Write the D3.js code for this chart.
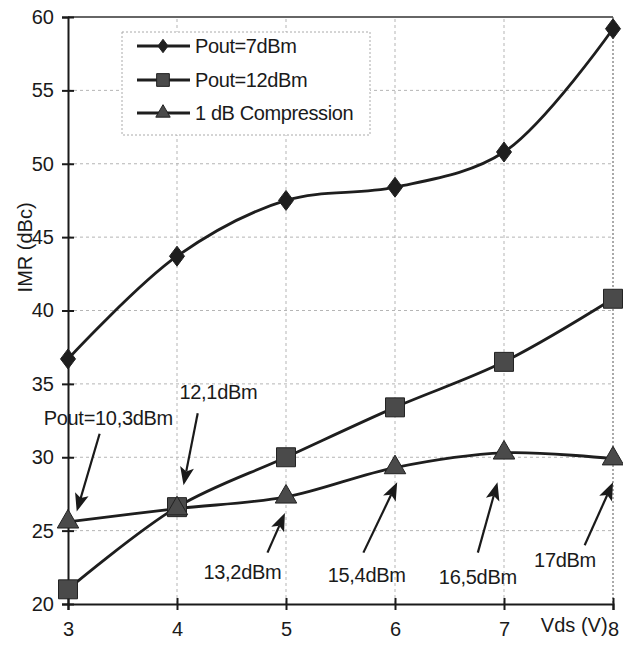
<!DOCTYPE html>
<html>
<head>
<meta charset="utf-8">
<script src="https://cdn.jsdelivr.net/npm/d3@7"></script>
<style>
  body { margin: 0; background: #fff; }
  svg { display: block; font-family: "Liberation Sans", Arial, sans-serif; }
</style>
</head>
<body>
<div id="chart"></div>
<script>
// IMR vs Vds chart
var vds = [3, 4, 5, 6, 7, 8];
var pout7 = [36.7, 43.7, 47.5, 48.4, 50.8, 59.2];
var pout12 = [21.0, 26.6, 30.0, 33.4, 36.5, 40.8];
var comp1dB = [25.6, 26.5, 27.3, 29.3, 30.3, 29.9];
var seriesNames = ["Pout=7dBm", "Pout=12dBm", "1 dB Compression"];
var yTicks = [20, 25, 30, 35, 40, 45, 50, 55, 60];
var xTicks = [3, 4, 5, 6, 7, 8];

// annotation labels: text position and arrow (from -> to), in data units
var noteLabels = ["Pout=10,3dBm", "12,1dBm", "13,2dBm", "15,4dBm", "16,5dBm", "17dBm"];
var noteText = [[3.37, 32.7], [4.38, 34.45], [4.60, 22.2], [5.74, 22.0], [6.76, 21.85], [7.56, 23.0]];
var noteFrom = [[3.29, 31.6], [4.19, 33.0], [4.83, 23.5], [5.71, 23.5], [6.76, 23.5], [7.74, 24.0]];
var noteTo = [[3.08, 26.3], [4.06, 28.1], [4.99, 26.2], [6.02, 28.3], [6.94, 28.3], [8.0, 28.3]];

var width = 623, height = 646;

var x = d3.scaleLinear().domain([3, 8]).range([68, 613]);
var y = d3.scaleLinear().domain([20, 60]).range([604, 17]);

var svg = d3.select("#chart").append("svg")
    .attr("width", width)
    .attr("height", height);

// grid
svg.append("g").selectAll("line")
    .data(yTicks.filter(function(d) { return d > 20 && d < 60; }))
  .enter().append("line")
    .attr("x1", x(3)).attr("x2", x(8))
    .attr("y1", function(d) { return y(d); })
    .attr("y2", function(d) { return y(d); })
    .attr("stroke", "#b5b5b5")
    .attr("stroke-dasharray", "3,3");

svg.append("g").selectAll("line")
    .data(xTicks.filter(function(d) { return d > 3 && d < 8; }))
  .enter().append("line")
    .attr("x1", function(d) { return x(d); })
    .attr("x2", function(d) { return x(d); })
    .attr("y1", y(20)).attr("y2", y(60))
    .attr("stroke", "#b5b5b5")
    .attr("stroke-dasharray", "3,3");

// frame top and right
svg.append("line")
    .attr("x1", x(3)).attr("x2", x(8))
    .attr("y1", y(60)).attr("y2", y(60))
    .attr("stroke", "#333").attr("stroke-width", 1.6);
svg.append("line")
    .attr("x1", x(8)).attr("x2", x(8))
    .attr("y1", y(60)).attr("y2", y(20))
    .attr("stroke", "#555").attr("stroke-width", 1)
    .attr("stroke-dasharray", "2,2");

// axes
var yAxis = d3.axisLeft(y).tickValues(yTicks).tickSize(6).tickPadding(8)
    .tickFormat(d3.format("d"));
var xAxis = d3.axisBottom(x).tickValues(xTicks).tickSize(6).tickPadding(12)
    .tickFormat(d3.format("d"));

var gy = svg.append("g")
    .attr("transform", "translate(" + x(3) + ",0)")
    .call(yAxis);
var gx = svg.append("g")
    .attr("transform", "translate(0," + y(20) + ")")
    .call(xAxis);

[gx, gy].forEach(function(g) {
  g.select(".domain").attr("stroke", "#1a1a1a").attr("stroke-width", 2);
  g.selectAll(".tick line").attr("stroke", "#1a1a1a").attr("stroke-width", 2);
  g.selectAll(".tick text").attr("fill", "#1a1a1a").style("font-size", "20px");
});
gy.selectAll(".tick line").attr("x2", 6).attr("x1", -6);
gx.selectAll(".tick line").attr("y1", -6).attr("y2", 6);

svg.append("text")
    .attr("transform", "translate(25," + y(44.3) + ") rotate(-90)")
    .attr("text-anchor", "middle")
    .attr("dy", "0.35em")
    .attr("fill", "#1a1a1a")
    .style("font-size", "20px")
    .text("IMR (dBc)");

svg.append("text")
    .attr("x", x(7.95))
    .attr("y", y(18.6))
    .attr("text-anchor", "end")
    .attr("dy", "0.35em")
    .attr("fill", "#1a1a1a")
    .style("font-size", "20px")
    .text("Vds (V)");

// lines
var line = d3.line()
    .curve(d3.curveCatmullRom.alpha(0.5))
    .x(function(d) { return x(d[0]); })
    .y(function(d) { return y(d[1]); });

var allSeries = [pout7, pout12, comp1dB].map(function(vals) {
  return vals.map(function(v, i) { return [vds[i], v]; });
});

// Excel-like diamond: a bit wider than d3's own
var wideDiamond = {
  draw: function(context, size) {
    var h = Math.sqrt(size / 1.5);
    var w = h * 0.75;
    context.moveTo(0, -h);
    context.lineTo(w, 0);
    context.lineTo(0, h);
    context.lineTo(-w, 0);
    context.closePath();
  }
};

var symbols = [wideDiamond, d3.symbolSquare, d3.symbolTriangle];
var symSize = [150, 360, 200];
var symFill = ["#1e1e1e", "#4a4a4a", "#4a4a4a"];

allSeries.forEach(function(data, k) {
  svg.append("path")
      .datum(data)
      .attr("fill", "none")
      .attr("stroke", "#1e1e1e")
      .attr("stroke-width", 2.8)
      .attr("d", line);
});

allSeries.forEach(function(data, k) {
  svg.append("g").selectAll("path")
      .data(data)
    .enter().append("path")
      .attr("transform", function(d) { return "translate(" + x(d[0]) + "," + y(d[1]) + ")"; })
      .attr("d", d3.symbol().type(symbols[k]).size(symSize[k]))
      .attr("fill", symFill[k])
      .attr("stroke", "#222")
      .attr("stroke-width", 1);
});

// legend
var legend = svg.append("g");
legend.append("rect")
    .attr("x", 122).attr("y", 32)
    .attr("width", 248).attr("height", 103)
    .attr("fill", "#fff")
    .attr("stroke", "#aaa")
    .attr("stroke-dasharray", "2,2");

var rowY = [46, 80, 113];
seriesNames.forEach(function(name, k) {
  var g = legend.append("g").attr("transform", "translate(0," + rowY[k] + ")");
  g.append("line")
      .attr("x1", 137).attr("x2", 190)
      .attr("stroke", "#1e1e1e")
      .attr("stroke-width", 2.8);
  g.append("path")
      .attr("transform", "translate(163,0)")
      .attr("d", d3.symbol().type(symbols[k]).size(symSize[k] * 0.45))
      .attr("fill", symFill[k])
      .attr("stroke", "#222");
  g.append("text")
      .attr("x", 195)
      .attr("dy", "0.35em")
      .attr("fill", "#1a1a1a")
      .style("font-size", "20px")
      .style("letter-spacing", "-0.4px")
      .text(name);
});

// annotations: shaft + filled head, head drawn pointing along +x then rotated
var headLen = 18, headHalf = 7;
noteLabels.forEach(function(label, i) {
  var x1 = x(noteFrom[i][0]), y1 = y(noteFrom[i][1]);
  var x2 = x(noteTo[i][0]), y2 = y(noteTo[i][1]);
  var ang = Math.atan2(y2 - y1, x2 - x1) * 180 / Math.PI;
  var len = Math.hypot(x2 - x1, y2 - y1);
  var g = svg.append("g")
      .attr("transform", "translate(" + x1 + "," + y1 + ") rotate(" + ang + ")");
  g.append("line")
      .attr("x1", 0).attr("y1", 0)
      .attr("x2", len - headLen + 4).attr("y2", 0)
      .attr("stroke", "#1a1a1a")
      .attr("stroke-width", 2.2);
  g.append("path")
      .attr("d", "M" + len + ",0L" + (len - headLen) + "," + (-headHalf) +
                 "L" + (len - headLen + 4) + ",0L" + (len - headLen) + "," + headHalf + "Z")
      .attr("fill", "#1a1a1a");
  svg.append("text")
      .attr("x", x(noteText[i][0]))
      .attr("y", y(noteText[i][1]))
      .attr("text-anchor", "middle")
      .attr("dy", "0.35em")
      .attr("fill", "#1a1a1a")
      .style("font-size", "20px")
      .style("letter-spacing", "-0.3px")
      .text(label);
});
</script>
</body>
</html>
